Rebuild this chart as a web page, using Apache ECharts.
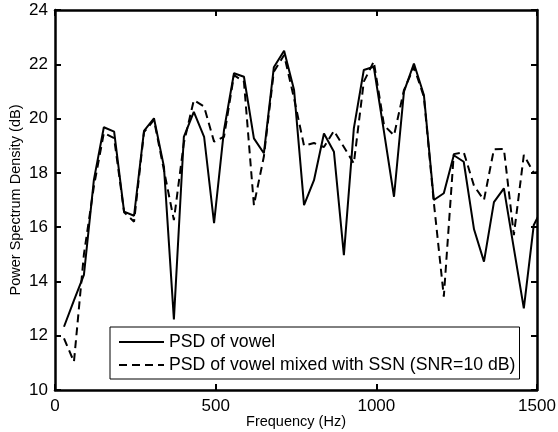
<!DOCTYPE html>
<html><head><meta charset="utf-8">
<script src="https://cdn.jsdelivr.net/npm/echarts@6/dist/echarts.min.js"></script>
<style>html,body{margin:0;padding:0;background:#fff}#c{width:558px;height:432px}</style>
</head><body><div id="c"></div>
<script>
// Frequencies (Hz) of the spectral bins
const freqs = [28, 59, 90, 121, 152, 184, 215, 246, 277, 308,
  339, 370, 401, 432, 464, 495, 526, 557, 588, 619,
  650, 681, 713, 744, 775, 806, 837, 868, 899, 930,
  961, 992, 1024, 1055, 1086, 1117, 1148, 1179, 1210, 1241,
  1272, 1304, 1335, 1366, 1397, 1428, 1459, 1490, 1521];

// PSD of clean vowel (dB)
const psdVowel = [12.33, 13.3, 14.24, 17.74, 19.68, 19.52, 16.57, 16.42, 19.55, 20.01,
  18.23, 12.6, 19.33, 20.25, 19.33, 16.15, 19.58, 21.67, 21.54, 19.27,
  18.72, 21.89, 22.5, 21.05, 16.81, 17.73, 19.45, 18.78, 14.97, 19.64,
  21.79, 21.91, 19.5, 17.12, 20.99, 22.03, 20.87, 17.0, 17.25, 18.65,
  18.41, 15.92, 14.73, 16.92, 17.43, 15.22, 13.01, 16.08, 16.8];

// PSD of vowel mixed with SSN at 10 dB SNR (dB)
const psdNoisy = [11.9, 11.04, 15.0, 17.5, 19.47, 19.28, 16.55, 16.2, 19.5, 19.95,
  18.1, 16.26, 19.1, 20.68, 20.44, 19.15, 19.33, 21.6, 21.36, 16.81,
  18.6, 21.73, 22.34, 20.74, 19.0, 19.1, 18.95, 19.55, 18.95, 18.35,
  21.36, 22.1, 19.75, 19.38, 21.05, 21.9, 20.8, 16.9, 13.44, 18.69,
  18.76, 17.52, 17.0, 18.87, 18.88, 15.71, 18.66, 18.0, 18.1];

const seriesNames = ['PSD of vowel', 'PSD of vowel mixed with SSN (SNR=10 dB)'];
const xTicks = [0, 500, 1000, 1500];
const yTicks = [10, 12, 14, 16, 18, 20, 22, 24];

const FONT = 'Liberation Sans, Arial, Helvetica, sans-serif';
const chart = echarts.init(document.getElementById('c'), null, {renderer: 'canvas'});

const axisLineStyle = {show: true, onZero: false, lineStyle: {color: '#000', width: 2.5}};
const tickStyle = {show: true, inside: true, length: 6, lineStyle: {color: '#000', width: 2}};

function xAxisDef(pos, labels) {
  return {
    type: 'value', position: pos,
    min: xTicks[0], max: xTicks[xTicks.length - 1], interval: xTicks[1] - xTicks[0],
    axisLine: axisLineStyle, axisTick: tickStyle,
    splitLine: {show: false},
    axisLabel: {show: labels, color: '#000', fontSize: 17, fontFamily: FONT, margin: 8,
      formatter: v => String(v)},
    name: labels ? 'Frequency (Hz)' : '',
    nameLocation: 'middle', nameGap: 24, nameMoveOverlap: false,
    nameTextStyle: {color: '#000', fontSize: 14.5, fontFamily: FONT}
  };
}
function yAxisDef(pos, labels) {
  return {
    type: 'value', position: pos,
    min: yTicks[0], max: yTicks[yTicks.length - 1], interval: yTicks[1] - yTicks[0],
    axisLine: axisLineStyle, axisTick: tickStyle,
    splitLine: {show: false},
    axisLabel: {show: labels, color: '#000', fontSize: 17, fontFamily: FONT, margin: 7,
      formatter: v => String(v)},
    name: labels ? 'Power Spectrum Density (dB)' : '',
    nameLocation: 'middle', nameGap: 32, nameMoveOverlap: false,
    nameTextStyle: {color: '#000', fontSize: 14.5, fontFamily: FONT}
  };
}

chart.setOption({
  animation: false,
  backgroundColor: '#fff',
  grid: {left: 55, right: 21, top: 10, bottom: 42, containLabel: false, outerBoundsMode: 'none'},
  xAxis: [xAxisDef('bottom', true), xAxisDef('top', false)],
  yAxis: [yAxisDef('left', true), yAxisDef('right', false)],
  legend: {
    orient: 'vertical', left: 110, top: 327,
    padding: [6, 4, 5, 8], itemGap: 5,
    itemWidth: 45, itemHeight: 16,
    borderColor: '#000', borderWidth: 1, backgroundColor: '#fff',
    itemStyle: {opacity: 0},
    lineStyle: {opacity: 1},
    textStyle: {color: '#000', fontSize: 17.7, fontFamily: FONT},
    data: seriesNames
  },
  series: [
    {
      name: seriesNames[0], type: 'line', xAxisIndex: 0, yAxisIndex: 0,
      data: freqs.map((f, i) => [f, psdVowel[i]]),
      symbol: 'none', clip: true,
      lineStyle: {color: '#000', width: 2, type: 'solid'},
      itemStyle: {color: '#000'}
    },
    {
      name: seriesNames[1], type: 'line', xAxisIndex: 0, yAxisIndex: 0,
      data: freqs.map((f, i) => [f, psdNoisy[i]]),
      symbol: 'none', clip: true,
      lineStyle: {color: '#000', width: 2, type: [8, 5]},
      itemStyle: {color: '#000'}
    }
  ]
});
</script>
</body></html>
